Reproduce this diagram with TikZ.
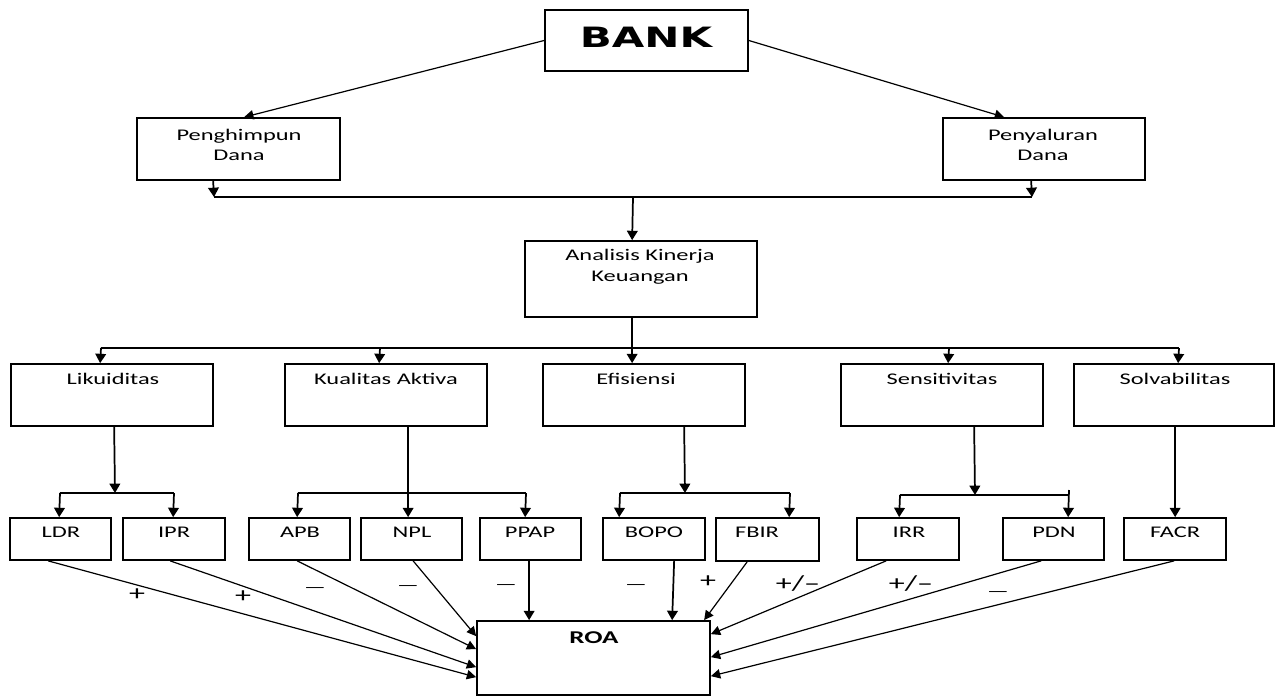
\documentclass[tikz,border=0pt]{standalone}
\usepackage{fontspec}
\setmainfont{Carlito}[FakeStretch=1.5]
\newfontfamily\bankfont{DejaVu Sans}[FakeStretch=1.5]
\usetikzlibrary{arrows.meta,fit,calc}
\begin{document}
\begin{tikzpicture}[x=0.75pt,y=-0.75pt,
  box/.style={draw, line width=1.3pt, inner sep=0pt, minimum size=0pt},
  lbl/.style={inner sep=0pt, font=\fontsize{12.2}{15.5}\selectfont, align=center},
  sgn/.style={inner sep=0pt, font=\fontsize{16}{16}\selectfont},
  mns/.style={inner sep=0pt, font=\fontsize{12}{12}\selectfont},
  arr/.style={line width=1.3pt, -{Triangle[length=7pt,width=8pt]}},
  ln/.style={line width=1.3pt},
  darr/.style={line width=0.9pt, -{Triangle[length=7pt,width=7pt]}}]
\useasboundingbox (0,0) rectangle (1276,696);

% boxes
\node[box, fit={(545,10) (748,71)}] (bank) {};
\node[box, fit={(137,118) (340,180)}] (pengh) {};
\node[box, fit={(943,118) (1145,180)}] (penya) {};
\node[box, fit={(525,241) (757,317)}] (anal) {};
\node[box, fit={(11,364) (213,426)}] (lik) {};
\node[box, fit={(285,364) (487,426)}] (kual) {};
\node[box, fit={(543,364) (745,426)}] (efis) {};
\node[box, fit={(841,364) (1043,426)}] (sens) {};
\node[box, fit={(1074,364) (1274,426)}] (solv) {};
\node[box, fit={(10,518) (111,560)}] (ldr) {};
\node[box, fit={(123,518) (225,560)}] (ipr) {};
\node[box, fit={(249,518) (350,560)}] (apb) {};
\node[box, fit={(361,518) (462,560)}] (npl) {};
\node[box, fit={(480,518) (581,560)}] (ppap) {};
\node[box, fit={(603,518) (705,560)}] (bopo) {};
\node[box, fit={(716,518) (819,561)}] (fbir) {};
\node[box, fit={(857,518) (959,560)}] (irr) {};
\node[box, fit={(1003,518) (1104,560)}] (pdn) {};
\node[box, fit={(1124,518) (1226,560)}] (facr) {};
\node[box, fit={(477,621) (710,695)}] (roa) {};

% texts
\node[inner sep=0pt, anchor=base, font=\bankfont\bfseries\fontsize{21}{21}\selectfont] (tbank) at (646,47.5) {BANK};
\node[lbl] (tpengh) at (239,145) {Penghimpun\\Dana};
\node[lbl] (tpenya) at (1043,145) {Penyaluran\\Dana};
\node[lbl] (tanal) at (640,267) {Analisis Kinerja\\Keuangan};
\node[lbl, anchor=base] (tlik) at (113,384) {Likuiditas};
\node[lbl, anchor=base] (tkual) at (386,384) {Kualitas Aktiva};
\node[lbl, anchor=base] (tefis) at (636,384) {Efisiensi};
\node[lbl, anchor=base] (tsens) at (942,384) {Sensitivitas};
\node[lbl, anchor=base] (tsolv) at (1175,384) {Solvabilitas};
\node[lbl, anchor=base] (tldr) at (61,537) {LDR};
\node[lbl, anchor=base] (tipr) at (174,537) {IPR};
\node[lbl, anchor=base] (tapb) at (300,537) {APB};
\node[lbl, anchor=base] (tnpl) at (412,537) {NPL};
\node[lbl, anchor=base] (tppap) at (530,537) {PPAP};
\node[lbl, anchor=base] (tbopo) at (654,537) {BOPO};
\node[lbl, anchor=base] (tfbir) at (757,537) {FBIR};
\node[lbl, anchor=base] (tirr) at (909,537) {IRR};
\node[lbl, anchor=base] (tpdn) at (1054,537) {PDN};
\node[lbl, anchor=base] (tfacr) at (1175,537) {FACR};
\node[inner sep=0pt, anchor=base, font=\bfseries\fontsize{13.5}{13.5}\selectfont] (troa) at (594,643) {ROA};

% top connectors
\draw[darr] (bank.west) -- ($(pengh.north west)+(108,0)$);
\draw[darr] (bank.east) -- ($(penya.north west)+(62,0)$);
\coordinate (j1) at (214,197);
\coordinate (j2) at (1032,197);
\coordinate (j3) at (633,197);
\draw[arr] ($(pengh.south west)+(77,0)$) -- (j1);
\draw[arr] ($(penya.south west)+(89,0)$) -- (j2);
\draw[ln] (j1) -- (j2);
\draw[arr] (j3) -- ($(anal.north west)+(108,0)$);

% main bus
\coordinate (b1) at (101,348);
\coordinate (b2) at (380,348);
\coordinate (b4) at (949,348);
\coordinate (b5) at (1179,348);
\draw[ln] (b1) -- (b5);
\draw[arr] ($(anal.south west)+(108,0)$) -- ($(efis.north west)+(90,0)$);
\draw[arr] (b1) -- ($(lik.north west)+(90,0)$);
\draw[arr] (b2) -- ($(kual.north west)+(95,0)$);
\draw[arr] (b4) -- ($(sens.north west)+(108,0)$);
\draw[arr] (b5) -- ($(solv.north west)+(105,0)$);

% Likuiditas
\coordinate (l0) at (115,493);
\coordinate (l1) at (60,493);
\coordinate (l2) at (174,493);
\draw[arr] ($(lik.south west)+(104,0)$) -- (l0);
\draw[ln] (l1) -- (l2);
\draw[arr] (l1) -- ($(ldr.north west)+(50,0)$);
\draw[arr] (l2) -- ($(ipr.north west)+(51,0)$);

% Kualitas Aktiva
\coordinate (k1) at (298,493);
\coordinate (k2) at (526,493);
\draw[arr] ($(kual.south west)+(124,0)$) -- ($(npl.north west)+(48,0)$);
\draw[ln] (k1) -- (k2);
\draw[arr] (k1) -- ($(apb.north west)+(49,0)$);
\draw[arr] (k2) -- ($(ppap.north west)+(46,0)$);

% Efisiensi
\coordinate (e0) at (685,493);
\coordinate (e1) at (620,493);
\coordinate (e2) at (790,493);
\draw[arr] ($(efis.south west)+(142,0)$) -- (e0);
\draw[ln] (e1) -- (e2);
\draw[arr] (e1) -- ($(bopo.north west)+(17,0)$);
\draw[arr] (e2) -- ($(fbir.north west)+(74,0)$);

% Sensitivitas
\coordinate (s0) at (975,495);
\coordinate (s1) at (900,495);
\coordinate (s2) at (1069,495);
\coordinate (s3) at (1069,490);
\draw[arr] ($(sens.south west)+(134,0)$) -- (s0);
\draw[ln] (s1) -- (s2);
\draw[arr] (s1) -- ($(irr.north west)+(43,0)$);
\draw[arr] (s3) -- ($(pdn.north west)+(66,0)$);

% Solvabilitas
\draw[arr] ($(solv.south west)+(102,0)$) -- ($(facr.north west)+(52,0)$);

% to ROA
\draw[darr] ($(ldr.south west)+(39,0)$) -- ($(roa.north west)+(0,57)$);
\draw[darr] ($(ipr.south west)+(48,0)$) -- ($(roa.north west)+(0,47)$);
\draw[darr] ($(apb.south west)+(49,0)$) -- ($(roa.north west)+(0,29)$);
\draw[darr] ($(npl.south west)+(53,0)$) -- ($(roa.north west)+(0,16)$);
\draw[arr] ($(ppap.south west)+(50,0)$) -- ($(roa.north west)+(53,0)$);
\draw[arr] ($(bopo.south west)+(72,0)$) -- ($(roa.north west)+(196,0)$);
\draw[darr] ($(fbir.south west)+(32,0)$) -- ($(roa.north west)+(228,0)$);
\draw[darr] ($(irr.south west)+(30,0)$) -- ($(roa.north east)+(0,14)$);
\draw[darr] ($(pdn.south west)+(39,0)$) -- ($(roa.north east)+(0,37)$);
\draw[darr] ($(facr.south west)+(51,0)$) -- ($(roa.north east)+(0,56)$);

% signs
\node[sgn] (sg1) at (137,595) {+};
\node[sgn] (sg2) at (243,597) {+};
\node[mns] (sg3) at (315,590) {—};
\node[mns] (sg4) at (408,588) {—};
\node[mns] (sg5) at (506,587) {—};
\node[mns] (sg6) at (636,587) {—};
\node[sgn] (sg7) at (708,582) {+};
\node[sgn] (sg8) at (798,584) {+/–};
\node[sgn] (sg9) at (911,584) {+/–};
\node[mns] (sg10) at (998,594) {—};
\end{tikzpicture}
\end{document}
